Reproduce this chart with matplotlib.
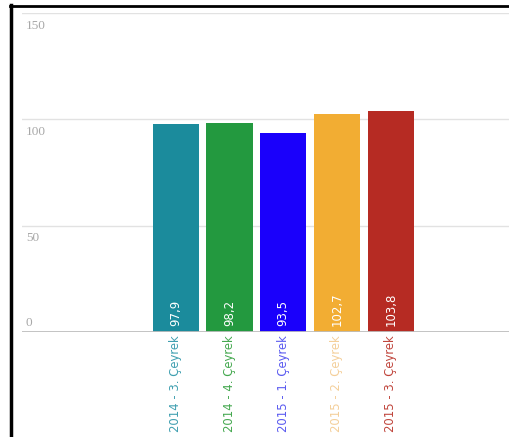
import matplotlib
matplotlib.use('Agg')
import matplotlib.pyplot as plt
from matplotlib.lines import Line2D

# data
categories = ['2014 - 3. Çeyrek', '2014 - 4. Çeyrek', '2015 - 1. Çeyrek',
              '2015 - 2. Çeyrek', '2015 - 3. Çeyrek']
values = [97.9, 98.2, 93.5, 102.7, 103.8]
value_labels = ['97,9', '98,2', '93,5', '102,7', '103,8']
bar_colors = ['#1b8b9c', '#23993f', '#1a00fb', '#f2ad33', '#b62b23']
label_colors = ['#3f9fb0', '#44a84f', '#5a5af0', '#f4cf9a', '#c0453c']
yticks = [0, 50, 100, 150]

fig = plt.figure(figsize=(5.09, 4.37), dpi=100)
ax = fig.add_axes([22 / 509, 1 - 332 / 437, 1 - 22 / 509, (332 - 13) / 437])

x = list(range(len(values)))
ax.bar(x, values, width=0.86, color=bar_colors, zorder=3)

ax.set_ylim(0, 150)
ax.set_xlim(-2.86, 6.2)

# grid lines
for t in yticks[1:]:
    ax.axhline(t, color='#e2e2e2', lw=1, zorder=1)
ax.axhline(0, color='#bdbdbd', lw=2, zorder=4)

# y labels sit under their grid lines (0 sits above)
for t in yticks:
    dy = 4 if t == 0 else -6
    ax.text(4 / 487, t + dy, str(t), transform=ax.get_yaxis_transform(),
            ha='left', va='center', fontsize=9.5, color='#a8a8a8',
            family=['Liberation Serif', 'DejaVu Serif'])

# values inside bars
for xi, lab in zip(x, value_labels):
    ax.text(xi, 3.0, lab, rotation=90, ha='center', va='bottom',
            fontsize=8.5, color='white', zorder=5)

# category labels under the axis
for xi, lab, c in zip(x, categories, label_colors):
    ax.text(xi, -1.6, lab, rotation=90, ha='center', va='top',
            fontsize=8.4, color=c, clip_on=False)

ax.set_xticks([])
ax.set_yticks([])
for s in ax.spines.values():
    s.set_visible(False)

# black frame on left and top
fig.add_artist(Line2D([11 / 509, 11 / 509], [0, 1 - 5 / 437],
                      transform=fig.transFigure, color='black', lw=2.5))
fig.add_artist(Line2D([10 / 509, 1], [1 - 5.5 / 437, 1 - 5.5 / 437],
                      transform=fig.transFigure, color='black', lw=2))

fig.savefig('out.png', dpi=100)
